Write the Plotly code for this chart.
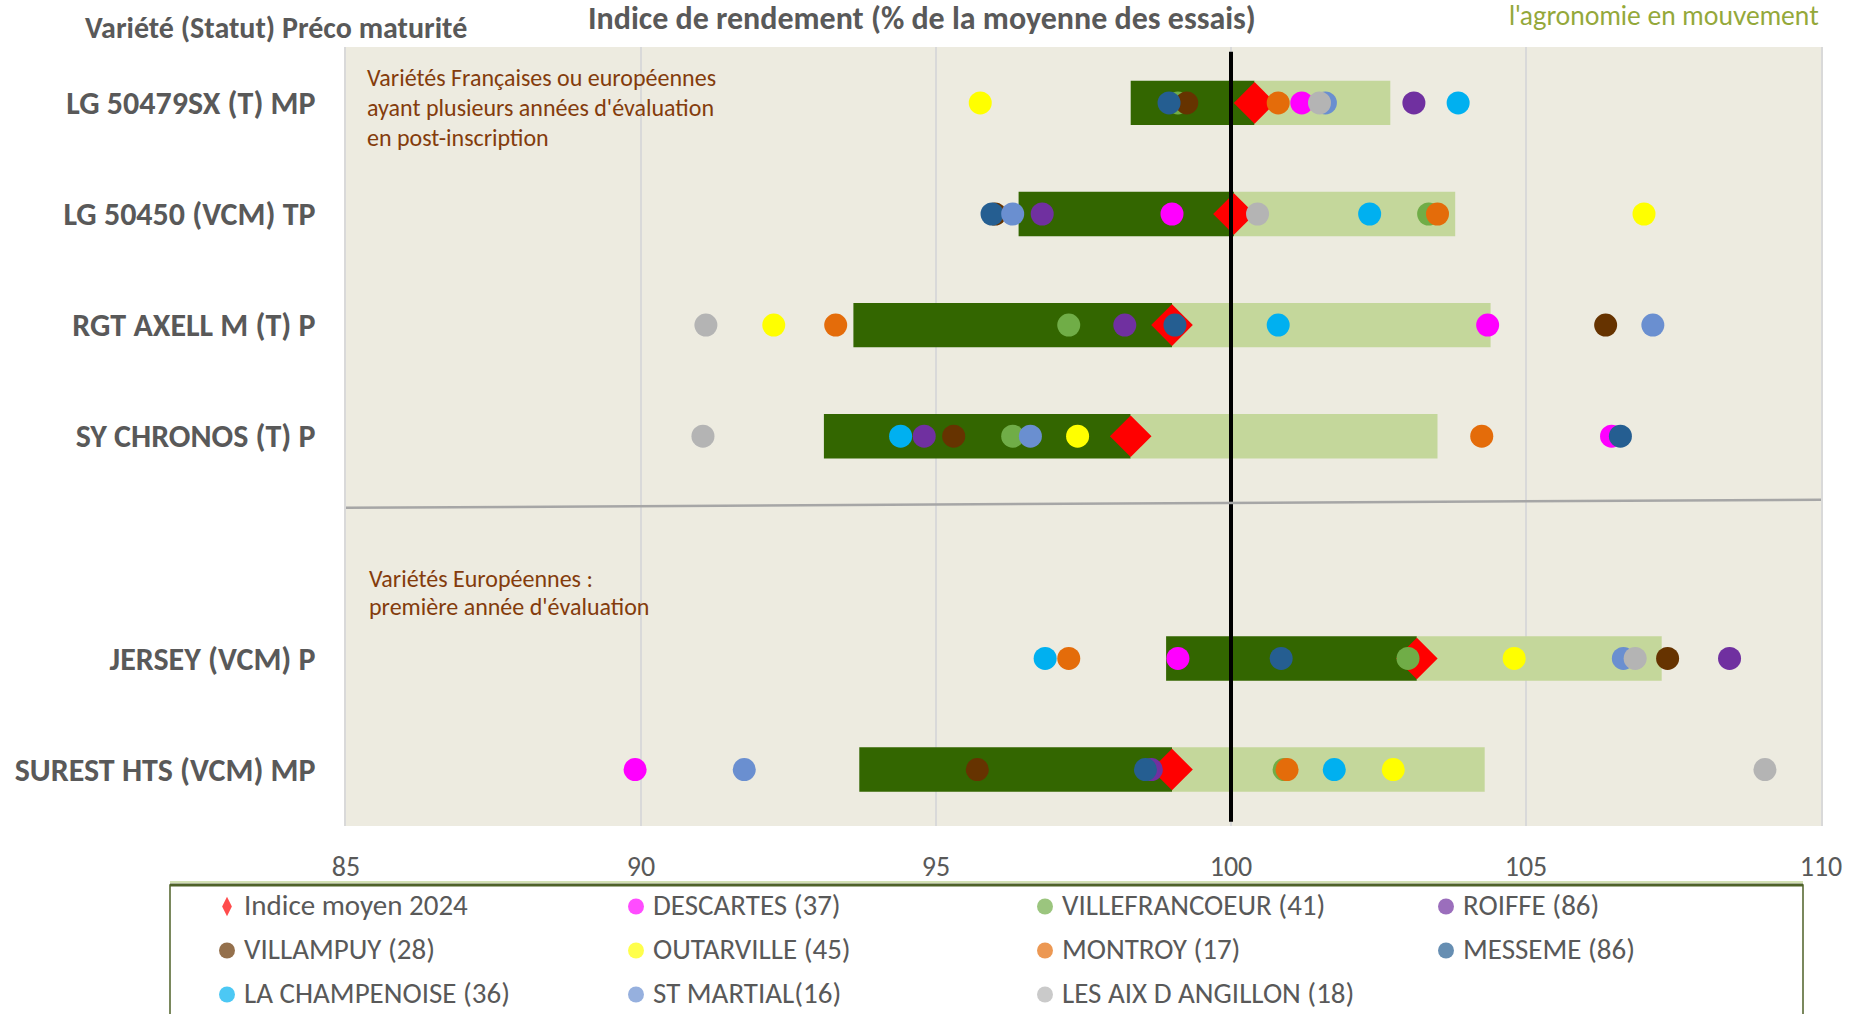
import plotly.graph_objects as go

# ---------------- data ----------------
varieties = ["LG 50479SX (T) MP", "LG 50450 (VCM) TP", "RGT AXELL M (T) P",
             "SY CHRONOS (T) P", "JERSEY (VCM) P", "SUREST HTS (VCM) MP"]
# y-axis slot order ("" = empty spacer slot between the two groups)
y_order = varieties[:4] + [""] + varieties[4:]

bar_low = [98.3, 96.4, 93.6, 93.1, 98.9, 93.7]
mean_2024 = [100.4, 100.05, 99.0, 98.3, 103.15, 99.0]
bar_high = [102.7, 103.8, 104.4, 103.5, 107.3, 104.3]

sites = ["DESCARTES (37)", "VILLEFRANCOEUR (41)", "ROIFFE (86)", "VILLAMPUY (28)",
         "OUTARVILLE (45)", "MONTROY (17)", "MESSEME (86)", "LA CHAMPENOISE (36)",
         "ST MARTIAL(16)", "LES AIX D ANGILLON (18)"]
site_colors = ["#FF00FF", "#70AD47", "#7030A0", "#663300", "#FFFF00",
               "#E46C0A", "#255E91", "#00B0F0", "#6A8FD0", "#B4B4B4"]

descartes = [101.2, 99.0, 104.35, 106.45, 99.1, 89.9]
villefrancoeur = [99.1, 103.35, 97.25, 96.3, 103.0, 100.9]
roiffe = [103.1, 96.8, 98.2, 94.8, 108.45, 98.65]
villampuy = [99.25, 96.0, 106.35, 95.3, 107.4, 95.7]
outarville = [95.75, 107.0, 92.25, 97.4, 104.8, 102.75]
montroy = [100.8, 103.5, 93.3, 104.25, 97.25, 100.95]
messeme = [98.95, 95.95, 99.05, 106.6, 100.85, 98.55]
champenoise = [103.85, 102.35, 100.8, 94.4, 96.85, 101.75]
st_martial = [101.6, 96.3, 107.15, 96.6, 106.65, 91.75]
les_aix = [101.5, 100.45, 91.1, 91.05, 106.85, 109.05]
site_values = [descartes, villefrancoeur, roiffe, villampuy, outarville,
               montroy, messeme, champenoise, st_martial, les_aix]

x_ticks = [85, 90, 95, 100, 105, 110]
reference_value = 100
mean_label = "Indice moyen 2024"

x_title = "Indice de rendement (% de la moyenne des essais)"
y_title = "Variété (Statut) Préco maturité"
logo_text = "l'agronomie en mouvement"
group1_lines = ["Variétés Françaises ou européennes",
                "ayant plusieurs années d'évaluation",
                "en post-inscription"]
group2_lines = ["Variétés Européennes :", "première année d'évaluation"]

# ---------------- layout helpers ----------------
W, H = 1863, 1014
FONT = "Calibri, Carlito, Lato, sans-serif"
GREY_TXT = "#595959"
BROWN_TXT = "#843C0C"


def px_x(v):
    return v / W


def px_y(v):
    return 1 - v / H


ypos = [y_order.index(v) for v in varieties]

fig = go.Figure()

# stacked range bars: dark = low -> mean, light = mean -> high
fig.add_trace(go.Bar(
    orientation="h", y=ypos, base=bar_low,
    x=[m - l for m, l in zip(mean_2024, bar_low)],
    width=0.4, marker=dict(color="#336600", line=dict(width=0)),
    showlegend=False, hoverinfo="skip"))
fig.add_trace(go.Bar(
    orientation="h", y=ypos, base=mean_2024,
    x=[h - m for h, m in zip(bar_high, mean_2024)],
    width=0.4, marker=dict(color="#C4D79B", line=dict(width=0)),
    showlegend=False, hoverinfo="skip"))

# mean diamonds
fig.add_trace(go.Scatter(
    x=mean_2024, y=ypos, mode="markers", name=mean_label,
    marker=dict(symbol="diamond", size=32, color="#FF0000", line=dict(width=0)),
    showlegend=False))

# site points
for name, col, vals in zip(sites, site_colors, site_values):
    fig.add_trace(go.Scatter(
        x=vals, y=ypos, mode="markers", name=name,
        marker=dict(symbol="circle", size=23, color=col, line=dict(width=0)),
        showlegend=False))

# ---------------- custom legend (grid of 4 columns) ----------------
leg_names = [mean_label] + sites
leg_colors = ["#FF0000"] + site_colors
leg_symbols = ["diamond-tall"] + ["circle"] * len(sites)
leg_sizes = [14] + [16] * len(sites)
LEG_COL_X = [227, 636, 1045, 1446]
LEG_ROW_Y = [21.5, 65.5, 109.5]
LEG_TOP = 885
LEG_TEXT_GAP = 15
LEG_TEXT_DY = -1.5
fig.add_trace(go.Scatter(
    x=[LEG_COL_X[i % 4] for i in range(len(leg_names))],
    y=[LEG_ROW_Y[i // 4] for i in range(len(leg_names))],
    mode="markers",
    marker=dict(symbol=leg_symbols, size=leg_sizes, color=leg_colors, line=dict(width=0)),
    xaxis="x2", yaxis="y2", showlegend=False, hoverinfo="skip", cliponaxis=False))

shapes = [
    # plot area background
    dict(type="rect", xref="x domain", yref="y domain", x0=0, x1=1, y0=0, y1=1,
         fillcolor="#EDEBE0", line=dict(width=0), layer="below"),
    # reference line at 100
    dict(type="line", xref="x", yref="y", x0=reference_value, x1=reference_value,
         y0=-0.46, y1=6.47, line=dict(color="black", width=4), layer="above"),
    # group separator
    dict(type="line", xref="x", yref="y", x0=x_ticks[0], x1=x_ticks[-1],
         y0=3.644, y1=3.571, line=dict(color="#A6A6A6", width=2.5), layer="above"),
    # legend box
    dict(type="rect", xref="paper", yref="paper", x0=px_x(170), x1=px_x(1803),
         y0=px_y(1040), y1=px_y(LEG_TOP), line=dict(color="#4F6228", width=1.5),
         fillcolor="rgba(0,0,0,0)"),
    dict(type="line", xref="paper", yref="paper", x0=px_x(170), x1=px_x(1803),
         y0=px_y(LEG_TOP), y1=px_y(LEG_TOP), line=dict(color="#4F6228", width=3)),
    dict(type="line", xref="paper", yref="paper", x0=px_x(170), x1=px_x(1803),
         y0=px_y(LEG_TOP - 3), y1=px_y(LEG_TOP - 3), line=dict(color="#C4D79B", width=1.5)),
]

annotations = [
    dict(text=x_title, xref="paper", yref="paper", x=px_x(922), y=px_y(19),
         xanchor="center", yanchor="middle", showarrow=False,
         font=dict(family=FONT, size=32, color=GREY_TXT, weight="bold")),
    dict(text=y_title, xref="paper", yref="paper", x=px_x(83), y=px_y(27),
         xanchor="left", yanchor="middle", showarrow=False,
         font=dict(family=FONT, size=30, color=GREY_TXT, weight="bold")),
    dict(text=logo_text, xref="paper", yref="paper", x=px_x(1821), y=px_y(15),
         xanchor="right", yanchor="middle", showarrow=False,
         font=dict(family="Lato", size=26, color="#94A83A", weight=400)),
]
for i, line in enumerate(group1_lines):
    annotations.append(dict(text=line, xref="paper", yref="paper", x=px_x(365),
                            y=px_y(78 + 29.7 * i), xanchor="left", yanchor="middle",
                            showarrow=False,
                            font=dict(family=FONT, size=24, color=BROWN_TXT)))
for i, line in enumerate(group2_lines):
    annotations.append(dict(text=line, xref="paper", yref="paper", x=px_x(367),
                            y=px_y(578 + 28.5 * i), xanchor="left", yanchor="middle",
                            showarrow=False,
                            font=dict(family=FONT, size=24, color=BROWN_TXT)))
for i, name in enumerate(leg_names):
    annotations.append(dict(text=name, xref="paper", yref="paper",
                            x=px_x(LEG_COL_X[i % 4] + LEG_TEXT_GAP),
                            y=px_y(LEG_TOP + LEG_ROW_Y[i // 4] + LEG_TEXT_DY),
                            xanchor="left", yanchor="middle", showarrow=False,
                            font=dict(family=FONT, size=29, color=GREY_TXT)))

fig.update_layout(
    width=W, height=H,
    margin=dict(l=0, r=0, t=0, b=0, autoexpand=False),
    paper_bgcolor="white", plot_bgcolor="rgba(0,0,0,0)",
    barmode="overlay", showlegend=False,
    xaxis=dict(domain=[px_x(346), px_x(1821)], range=[x_ticks[0], x_ticks[-1]],
               tickvals=x_ticks, ticktext=[str(t) for t in x_ticks],
               showgrid=True, gridcolor="#D9D9D9", gridwidth=1.5,
               zeroline=False, showline=False, ticks="",
               tickfont=dict(family=FONT, size=28, color=GREY_TXT),
               ticklabelstandoff=21, anchor="y"),
    yaxis=dict(domain=[px_y(826), px_y(47)], range=[6.508, -0.503],
               tickvals=ypos, ticktext=varieties, showgrid=False, zeroline=False,
               showline=True, linecolor="#D9D9D9", linewidth=2, mirror=True, ticks="",
               tickfont=dict(family=FONT, size=32, color=GREY_TXT, weight="bold"),
               ticklabelstandoff=22, anchor="x"),
    xaxis2=dict(domain=[0, 1], range=[0, W], visible=False, anchor="y2", fixedrange=True),
    yaxis2=dict(domain=[0, px_y(LEG_TOP)], range=[H - LEG_TOP, 0], visible=False,
                anchor="x2", fixedrange=True),
    shapes=shapes, annotations=annotations,
)

fig.write_html("out.html", config={"displayModeBar": False},
               post_script="document.body.style.margin='0';document.body.style.overflow='hidden';")
